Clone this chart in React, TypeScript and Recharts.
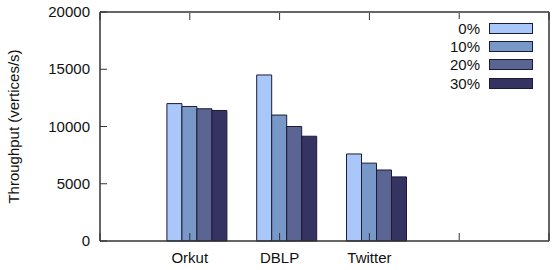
import { Bar, BarChart, Rectangle, XAxis, YAxis } from "recharts";

const categories = ["Orkut", "DBLP", "Twitter"];
const positions = [1, 2, 3];
const series = ["0%", "10%", "20%", "30%"];
const values0 = [12000, 14500, 7600];
const values10 = [11750, 11000, 6800];
const values20 = [11550, 10000, 6200];
const values30 = [11400, 9150, 5600];
const yTicks = [0, 5000, 10000, 15000, 20000];
const xTicks = [0, 1, 2, 3, 4, 5];

const COLORS = ["#a9c8f9", "#7898c8", "#5a6594", "#353361"];
const FONT = "'Liberation Sans', Arial, sans-serif";

const data = positions.map((x, i) => ({
  x,
  name: categories[i],
  s0: values0[i],
  s10: values10[i],
  s20: values20[i],
  s30: values30[i],
}));
const seriesKeys = ["s0", "s10", "s20", "s30"];

// gnuplot puts the cluster a little right of the tick
const ShiftedBar = (props: any) => (
  <Rectangle {...props} x={props.x + 7} stroke="#1c1b33" strokeWidth={1} />
);

const YTick = ({ x, y, payload }: any) => (
  <g>
    <line x1={x + 10} x2={x + 17} y1={y} y2={y} stroke="#333" />
    <text x={x} y={y} dy={5} textAnchor="end" fontSize={15} fontFamily={FONT} fill="#111">
      {payload.value}
    </text>
  </g>
);

const XTick = ({ x, y, payload }: any) => {
  const idx = positions.indexOf(payload.value);
  return (
    <g>
      <line x1={x} x2={x} y1={y - 1} y2={y - 8} stroke="#333" />
      {idx >= 0 && (
        <text x={x} y={y + 22} textAnchor="middle" fontSize={15} fontFamily={FONT} fill="#111">
          {categories[idx]}
        </text>
      )}
    </g>
  );
};

const TopTick = ({ x, y }: any) => (
  <line x1={x} x2={x} y1={y + 1} y2={y + 8} stroke="#333" />
);

const RightTick = ({ x, y }: any) => (
  <line x1={x - 1} x2={x - 8} y1={y} y2={y} stroke="#333" />
);

const KeyBox = () => (
  <div
    style={{
      position: "absolute",
      left: 420,
      top: 19,
      fontFamily: FONT,
      fontSize: 15,
      background: "#fff",
      paddingBottom: 4,
    }}
  >
    {series.map((s, i) => (
      <div key={s} style={{ display: "flex", alignItems: "center", height: 18.4 }}>
        <span style={{ width: 60, textAlign: "right", color: "#111" }}>{s}</span>
        <span
          style={{
            display: "inline-block",
            marginLeft: 9,
            width: 42,
            height: 9,
            background: COLORS[i],
            border: "1px solid #1c1b33",
          }}
        />
      </div>
    ))}
  </div>
);

export default function App() {
  return (
    <div style={{ position: "absolute", left: 0, top: 0, background: "#fff" }}>
      <BarChart
        width={553}
        height={270}
        data={data}
        barGap={0}
        barSize={15}
        margin={{ top: 11, right: 3, bottom: 0, left: 0 }}
      >
        <XAxis
          xAxisId="b"
          dataKey="x"
          type="number"
          domain={[0, 5]}
          ticks={xTicks}
          interval={0}
          tickSize={0}
          tickMargin={0}
          height={29}
          tick={<XTick />}
          axisLine={{ stroke: "#333", strokeWidth: 1.5 }}
          tickLine={false}
        />
        <XAxis
          xAxisId="t"
          orientation="top"
          dataKey="x"
          type="number"
          domain={[0, 5]}
          ticks={xTicks}
          interval={0}
          tickSize={0}
          tickMargin={0}
          height={1}
          tick={<TopTick />}
          axisLine={{ stroke: "#333", strokeWidth: 1.5 }}
          tickLine={false}
        />
        <YAxis
          yAxisId="l"
          domain={[0, 20000]}
          ticks={yTicks}
          interval={0}
          width={100}
          tickSize={0}
          tickMargin={10}
          tick={<YTick />}
          axisLine={{ stroke: "#333", strokeWidth: 1.5 }}
          tickLine={false}
          label={{
            value: "Throughput (vertices/s)",
            angle: -90,
            position: "insideLeft",
            offset: 14,
            style: { textAnchor: "middle", fontSize: 15, fontFamily: FONT, fill: "#111" },
          }}
        />
        <YAxis
          yAxisId="r"
          orientation="right"
          domain={[0, 20000]}
          ticks={yTicks}
          interval={0}
          width={1}
          tickSize={0}
          tickMargin={0}
          tick={<RightTick />}
          axisLine={{ stroke: "#333", strokeWidth: 1.5 }}
          tickLine={false}
        />
        {seriesKeys.map((k, i) => (
          <Bar
            key={k}
            dataKey={k}
            name={series[i]}
            xAxisId="b"
            yAxisId="l"
            fill={COLORS[i]}
            shape={<ShiftedBar />}
            isAnimationActive={false}
          />
        ))}
      </BarChart>
      <KeyBox />
    </div>
  );
}
